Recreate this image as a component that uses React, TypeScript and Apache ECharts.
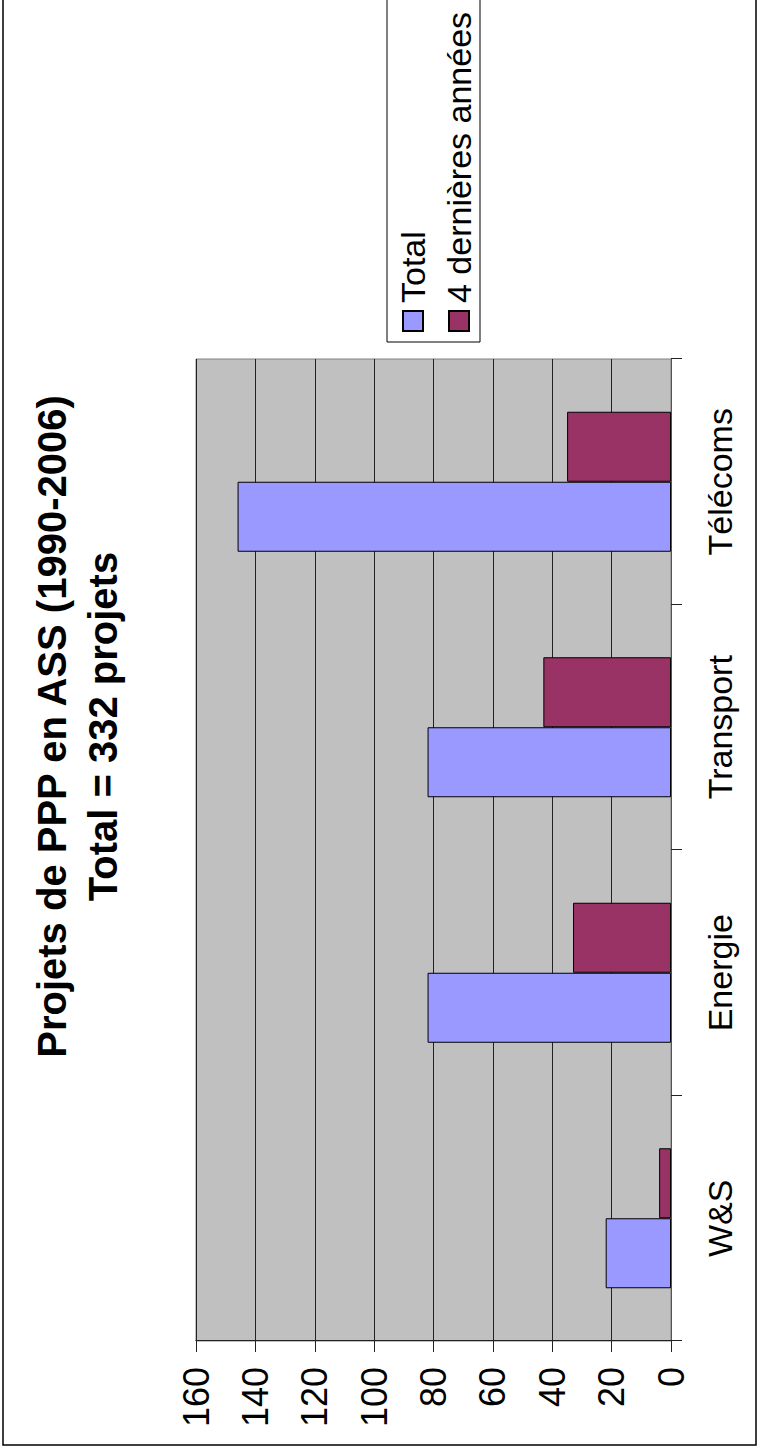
import React, { useEffect, useRef } from "react";
import * as echarts from "echarts";

const categories = ["W&S", "Energie", "Transport", "Télécoms"];
const totalValues = [22, 82, 82, 146];
const recentValues = [4, 33, 43, 35];
const seriesNames = ["Total", "4 dernières années"];
const titleLines = ["Projets de PPP en ASS (1990-2006)", "Total = 332 projets"];

const FONT = "'Liberation Sans', Arial, sans-serif";

export default function App() {
  const ref = useRef<HTMLDivElement>(null);

  useEffect(() => {
    document.documentElement.style.overflow = "hidden";
    document.body.style.margin = "0";
    const chart = echarts.init(ref.current!, null, { renderer: "svg" });
    chart.setOption({
      animation: false,
      backgroundColor: "#ffffff",
      title: {
        text: titleLines.join("\n"),
        left: "center",
        top: 21,
        padding: [5, 0, 5, 33],
        textStyle: {
          fontFamily: FONT,
          fontSize: 40,
          fontWeight: "bold",
          color: "#000",
          lineHeight: 51,
        },
      },
      legend: {
        orient: "vertical",
        left: 1111,
        top: 387,
        padding: [9, 400, 4, 10],
        itemGap: 12,
        itemWidth: 20,
        itemHeight: 20,
        icon: "rect",
        borderColor: "#000",
        borderWidth: 1,
        textStyle: { fontFamily: FONT, fontSize: 34, color: "#000", padding: [0, 0, 0, 3] },
        data: seriesNames,
      },
      grid: {
        left: 112,
        top: 196,
        width: 982,
        height: 475,
        show: true,
        backgroundColor: "#c0c0c0",
        borderColor: "#808080",
        borderWidth: 1,
        containLabel: false,
      },
      xAxis: {
        type: "category",
        data: categories,
        boundaryGap: true,
        axisLine: { show: true, lineStyle: { color: "#555", width: 1 } },
        axisTick: { show: true, length: 11, alignWithLabel: false, lineStyle: { color: "#222" } },
        axisLabel: { fontFamily: FONT, fontSize: 34, color: "#000", margin: 32 },
        splitLine: { show: false },
      },
      yAxis: {
        type: "value",
        min: 0,
        max: 160,
        interval: 20,
        axisLine: { show: true, lineStyle: { color: "#222", width: 1 } },
        axisTick: { show: true, length: 11, lineStyle: { color: "#222" } },
        axisLabel: { fontFamily: FONT, fontSize: 36, color: "#000", margin: 26 },
        splitLine: { show: true, lineStyle: { color: "#222", width: 1 } },
      },
      graphic: [
        {
          type: "rect",
          shape: { x: 8, y: 3, width: 1460, height: 753 },
          style: { fill: "none", stroke: "#000", lineWidth: 1.5 },
          silent: true,
          z: -1,
        },
      ],
      series: [
        {
          name: seriesNames[0],
          type: "bar",
          data: totalValues,
          barWidth: 70,
          barGap: "0%",
          barCategoryGap: "43%",
          itemStyle: { color: "#9999ff", borderColor: "#000", borderWidth: 1 },
        },
        {
          name: seriesNames[1],
          type: "bar",
          data: recentValues,
          barWidth: 70,
          barGap: "0%",
          barCategoryGap: "43%",
          itemStyle: { color: "#993366", borderColor: "#000", borderWidth: 1 },
        },
      ],
    });
    return () => chart.dispose();
  }, []);

  return (
    <div
      style={{
        position: "absolute",
        left: 0,
        top: 0,
        width: 1453,
        height: 763,
        transformOrigin: "0 0",
        transform: "translate(0px, 1453px) rotate(-90deg)",
      }}
    >
      <div ref={ref} style={{ width: 1453, height: 763 }} />
    </div>
  );
}
